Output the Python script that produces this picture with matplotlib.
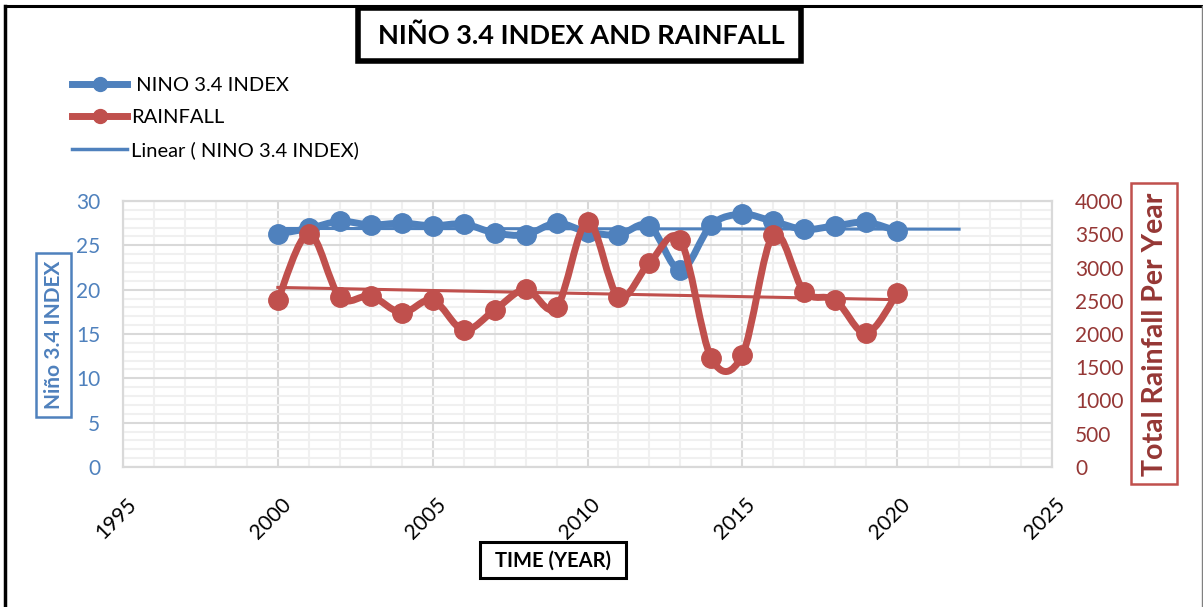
import numpy as np
import matplotlib
matplotlib.use('Agg')
import matplotlib.pyplot as plt
from matplotlib.path import Path
from matplotlib.patches import PathPatch, Rectangle
from matplotlib.lines import Line2D
from matplotlib.ticker import MultipleLocator
import matplotlib.transforms as mtransforms

# ── Data ──
years = [2000, 2001, 2002, 2003, 2004, 2005, 2006, 2007, 2008, 2009, 2010,
         2011, 2012, 2013, 2014, 2015, 2016, 2017, 2018, 2019, 2020]
nino = [26.3, 26.9, 27.7, 27.3, 27.5, 27.2, 27.4, 26.4, 26.2, 27.5, 26.5,
        26.2, 27.2, 22.2, 27.3, 28.5, 27.7, 26.8, 27.2, 27.6, 26.6]
rainfall = [2510, 3510, 2555, 2570, 2320, 2510, 2060, 2360, 2670, 2400, 3690,
            2560, 3070, 3410, 1635, 1685, 3490, 2635, 2510, 2010, 2610]
trend_forward = 2  # years the NINO trendline extends past the data
xticks = [1995, 2000, 2005, 2010, 2015, 2020, 2025]

BLUE = '#4F81BD'; RED = '#C0504D'; DARKRED = '#953735'
plt.rcParams['font.family'] = ['Lato', 'DejaVu Sans']


def smooth_path(x, y):
    # Excel style smoothed line: Catmull-Rom segments as cubic Beziers
    pts = np.column_stack([x, y]).astype(float)
    n = len(pts)
    verts = [pts[0]]; codes = [Path.MOVETO]
    for i in range(n - 1):
        p0 = pts[max(i - 1, 0)]; p1 = pts[i]; p2 = pts[i + 1]; p3 = pts[min(i + 2, n - 1)]
        verts += [p1 + (p2 - p0) / 6, p2 - (p3 - p1) / 6, p2]
        codes += [Path.CURVE4] * 3
    return Path(verts, codes)


fig = plt.figure(figsize=(12.03, 6.07), dpi=100)
W, H = 1203, 607
ax = fig.add_axes([123 / W, 1 - 467 / H, (1052 - 123) / W, (467 - 201) / H])
ax2 = ax.twinx()

x = np.array(years); yn = np.array(nino); yr = np.array(rainfall)

# grid
ax.set_xlim(1995, 2025); ax.set_ylim(0, 30)
ax2.set_ylim(0, 4000)
ax.xaxis.set_major_locator(MultipleLocator(5)); ax.xaxis.set_minor_locator(MultipleLocator(1))
ax.yaxis.set_major_locator(MultipleLocator(5)); ax.yaxis.set_minor_locator(MultipleLocator(1))
ax2.yaxis.set_major_locator(MultipleLocator(500))
ax.grid(True, which='minor', color='#F0F0F0', lw=1.5)
ax.grid(True, which='major', color='#D9D9D9', lw=1.5)
ax.set_axisbelow(True)
for a in (ax, ax2):
    for s in a.spines.values():
        s.set_color('#D9D9D9'); s.set_linewidth(1.5)

# NINO series
ax.add_patch(PathPatch(smooth_path(x, yn), fill=False, ec=BLUE, lw=5,
                       capstyle='round', joinstyle='round', zorder=3))
ax.plot(x, yn, 'o', color=BLUE, ms=14, zorder=4)
cn = np.polyfit(x, yn, 1)
xt = np.array([x[0], x[-1] + trend_forward])
ax.plot(xt, np.polyval(cn, xt), color=BLUE, lw=2.2, zorder=5)

# Rainfall series
ax2.add_patch(PathPatch(smooth_path(x, yr), fill=False, ec=RED, lw=5,
                        capstyle='round', joinstyle='round', zorder=3))
ax2.plot(x, yr, 'o', color=RED, ms=14, zorder=4)
cr = np.polyfit(x, yr, 1)
xr = np.array([x[0], x[-1]])
ax2.plot(xr, np.polyval(cr, xr), color=RED, lw=2.2, zorder=5)

# ticks
ax.set_xticks(xticks)
ax.tick_params(axis='x', which='both', length=0, labelsize=15, pad=25)
ax.tick_params(axis='y', which='both', length=0, labelsize=15, labelcolor=BLUE, pad=16.5)
ax2.tick_params(axis='y', which='both', length=0, labelsize=15, labelcolor=DARKRED, pad=16.5)
off = mtransforms.ScaledTranslation(10 / 100, 0, fig.dpi_scale_trans)
for lab in ax.get_xticklabels():
    lab.set_rotation(45); lab.set_ha('right'); lab.set_va('center')
    lab.set_rotation_mode('anchor'); lab.set_transform(lab.get_transform() + off)
for lab in ax.get_yticklabels():
    lab.set_ha('right')
for lab in ax2.get_yticklabels():
    lab.set_ha('left')

# boxes and labels (figure pixels)
def box(x0, y0, x1, y1, ec, lw):
    fig.patches.append(Rectangle((x0 / W, 1 - y1 / H), (x1 - x0) / W, (y1 - y0) / H,
                                 transform=fig.transFigure, fc='white', ec=ec, lw=lw, zorder=1))

# outer frame: black top and left, grey right
fig.add_artist(Line2D([5 / W, 5 / W], [0, 1 - 6 / H], color='black', lw=2.5))
fig.add_artist(Line2D([5 / W, 1202 / W], [1 - 6 / H, 1 - 6 / H], color='black', lw=2.2))
fig.add_artist(Line2D([1201.5 / W, 1201.5 / W], [0, 1 - 6 / H], color='#808080', lw=1))

box(358, 8, 801, 61, 'black', 4)
fig.text(581 / W, 1 - 36 / H, 'NIÑO 3.4 INDEX AND RAINFALL', ha='center', va='center',
         fontsize=19.5, fontweight='bold')
box(480, 542, 626, 578, 'black', 2.2)
fig.text(553 / W, 1 - 561 / H, 'TIME (YEAR)', ha='center', va='center', fontsize=14.5,
         fontweight='bold')
box(36, 253, 71, 417, BLUE, 1.8)
fig.text(54 / W, 1 - 335 / H, 'Niño 3.4 INDEX', ha='center', va='center', rotation=90,
         fontsize=15, fontweight='bold', color=BLUE)
box(1131, 183, 1177, 484, RED, 1.8)
fig.text(1155 / W, 1 - 334 / H, 'Total Rainfall Per Year', ha='center', va='center',
         rotation=90, fontsize=20.5, fontweight='bold', color=DARKRED)

# legend
handles = [Line2D([], [], color=BLUE, lw=5, marker='o', ms=10),
           Line2D([], [], color=RED, lw=5, marker='o', ms=10),
           Line2D([], [], color=BLUE, lw=2.5)]
labels = [' NINO 3.4 INDEX', 'RAINFALL', 'Linear ( NINO 3.4 INDEX)']
fig.legend(handles, labels, loc='upper left', bbox_to_anchor=(66 / W, 1 - 71 / H),
           frameon=False, fontsize=14.5, handlelength=2.75, handletextpad=0.2,
           labelspacing=0.74, borderaxespad=0, borderpad=0.3)

fig.savefig('out.png', dpi=100)
